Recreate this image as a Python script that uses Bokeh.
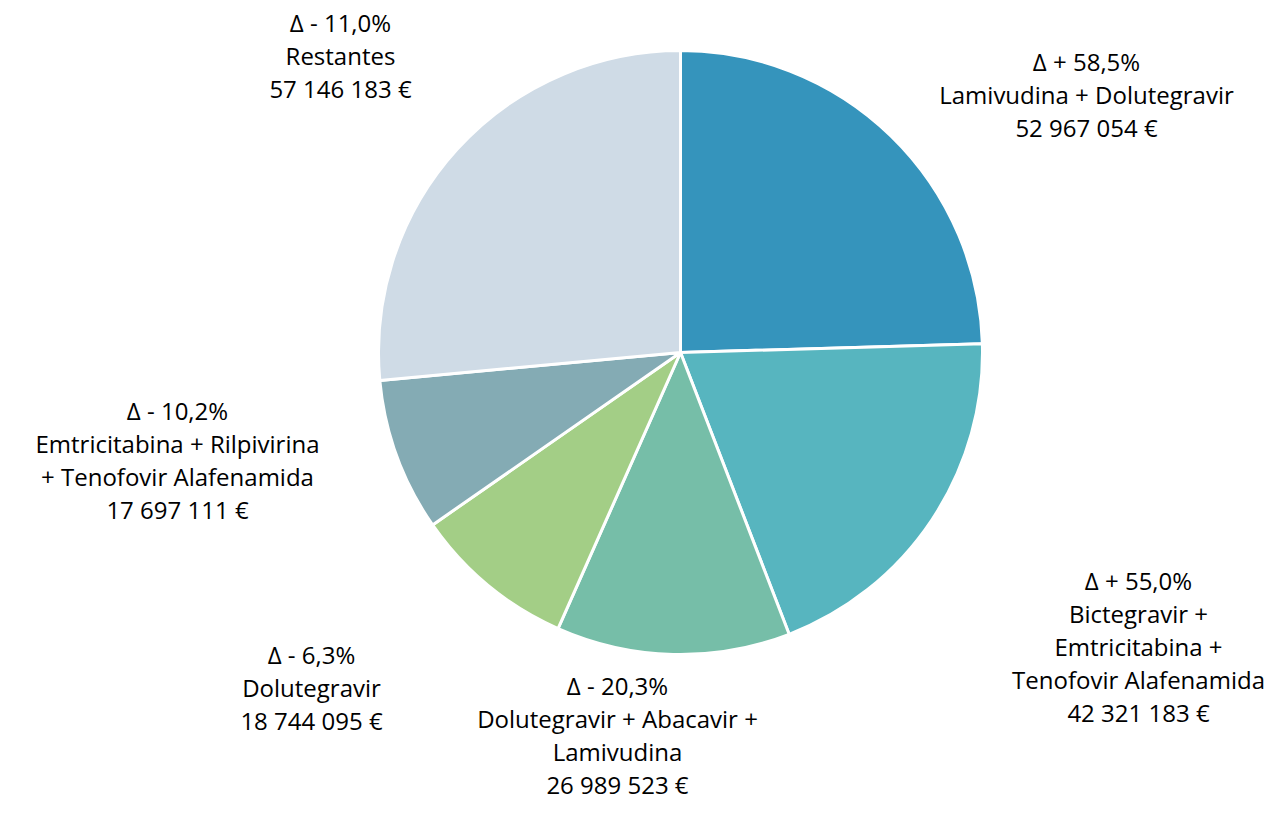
import math
from bokeh.plotting import figure
from bokeh.models import ColumnDataSource, Range1d
from bokeh.core.properties import value
from bokeh.embed import file_html
from bokeh.resources import INLINE

# Data
names = [
    "Lamivudina + Dolutegravir",
    "Bictegravir +\nEmtricitabina +\nTenofovir Alafenamida",
    "Dolutegravir + Abacavir +\nLamivudina",
    "Dolutegravir",
    "Emtricitabina + Rilpivirina\n+ Tenofovir Alafenamida",
    "Restantes",
]
values = [52967054, 42321183, 26989523, 18744095, 17697111, 57146183]
deltas = ["+ 58,5%", "+ 55,0%", "- 20,3%", "- 6,3%", "- 10,2%", "- 11,0%"]

# Styles / layout
colors = ["#3594BC", "#57B5BF", "#76BEA8", "#A3CE86", "#84ABB4", "#CFDBE6"]
cx, cy, r = 680, -352, 302
label_pos = [(1086, -94), (1138, -646), (617, -734), (311, -687), (177, -459), (340, -55)]

total = float(sum(values))
starts, ends = [], []
cum = 0.0
for v in values:
    a0 = math.pi / 2 - 2 * math.pi * cum / total
    cum += v
    a1 = math.pi / 2 - 2 * math.pi * cum / total
    starts.append(a0)
    ends.append(a1)

def fmt(v):
    return f"{v:,}".replace(",", " ") + " €"

labels = [f"\u0394 {d}\n{n}\n{fmt(v)}" for d, n, v in zip(deltas, names, values)]

p = figure(width=1270, height=802, output_backend="svg", toolbar_location=None,
           x_range=Range1d(0, 1270), y_range=Range1d(-802, 0), min_border=0)
p.axis.visible = False
p.grid.visible = False
p.outline_line_color = None
p.background_fill_color = "white"

src = ColumnDataSource(dict(start=starts, end=ends, color=colors))
p.wedge(x=cx, y=cy, radius=r, start_angle="start", end_angle="end", direction="clock",
        fill_color="color", line_color="white", line_width=3, source=src)

tsrc = ColumnDataSource(dict(x=[q[0] for q in label_pos], y=[q[1] for q in label_pos], t=labels))
p.text(x="x", y="y", text="t", source=tsrc, text_align="center", text_baseline="middle",
       text_font=value("Open Sans"), text_font_size="24px", text_color="black",
       text_line_height=1.0)

open("out.html", "w").write(file_html(p, INLINE))
